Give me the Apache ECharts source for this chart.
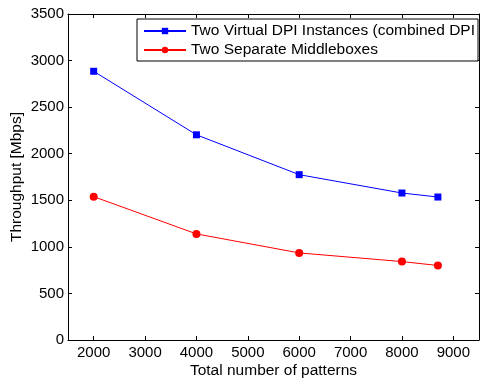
<!DOCTYPE html>
<html>
<head>
<meta charset="utf-8">
<script src="https://cdn.jsdelivr.net/npm/echarts@6/dist/echarts.min.js"></script>
<style>html,body{margin:0;padding:0;background:#fff;}#c{width:482px;height:384px;}</style>
</head>
<body>
<div id="c"></div>
<script>
const patterns = [2000, 4000, 6000, 8000, 8700];
const virtualDPI = [2885, 2203, 1775, 1578, 1535];
const separateMB = [1539, 1139, 935, 842, 800];
const seriesNames = ['Two Virtual DPI Instances (combined DPI)', 'Two Separate Middleboxes'];
const xTicks = [2000, 3000, 4000, 5000, 6000, 7000, 8000, 9000];
const yTicks = [0, 500, 1000, 1500, 2000, 2500, 3000, 3500];
const xTitle = 'Total number of patterns';
const yTitle = 'Throughput [Mbps]';

const FONT = "'Liberation Sans', Arial, Helvetica, sans-serif";
const chart = echarts.init(document.getElementById('c'), null, {renderer: 'canvas'});
const axisLine = {show: true, onZero: false, lineStyle: {color: '#000', width: 1}};
const tick = vals => ({show: true, inside: true, length: 4, customValues: vals, lineStyle: {color: '#000'}});
chart.setOption({
  animation: false,
  backgroundColor: '#fff',
  textStyle: {fontFamily: FONT, color: '#000'},
  grid: {left: 68, right: 3, top: 14, bottom: 44, containLabel: false, outerBoundsMode: 'none'},
  legend: {
    left: 137, top: 19, orient: 'vertical', itemGap: 3,
    itemWidth: 42, itemHeight: 8,
    padding: [4, 1, 3, 6],
    backgroundColor: '#fff', borderColor: '#000', borderWidth: 1,
    textStyle: {fontFamily: FONT, fontSize: 15.5, color: '#000', lineHeight: 16,
      width: 286, overflow: 'truncate', ellipsis: ''},
    data: seriesNames
  },
  xAxis: [
    {
      type: 'value', min: 1500, max: 9500, position: 'bottom',
      axisLine: axisLine, axisTick: tick(xTicks), splitLine: {show: false},
      name: xTitle, nameLocation: 'middle', nameGap: 23, nameMoveOverlap: false,
      nameTextStyle: {fontFamily: FONT, fontSize: 15.5, color: '#000'},
      axisLabel: {fontFamily: FONT, fontSize: 15, color: '#000', margin: 5,
        customValues: xTicks, formatter: v => String(v)}
    },
    {
      type: 'value', min: 1500, max: 9500, position: 'top',
      axisLine: axisLine, axisTick: tick(xTicks), splitLine: {show: false},
      axisLabel: {show: false}
    }
  ],
  yAxis: [
    {
      type: 'value', min: 0, max: 3500, interval: 500, position: 'left',
      axisLine: axisLine, axisTick: tick(yTicks), splitLine: {show: false},
      name: yTitle, nameLocation: 'middle', nameGap: 43, nameMoveOverlap: false,
      nameTextStyle: {fontFamily: FONT, fontSize: 15.5, color: '#000'},
      axisLabel: {fontFamily: FONT, fontSize: 15, color: '#000', margin: 4,
        customValues: yTicks, formatter: v => String(v)}
    },
    {
      type: 'value', min: 0, max: 3500, interval: 500, position: 'right',
      axisLine: axisLine, axisTick: tick(yTicks), splitLine: {show: false},
      axisLabel: {show: false}
    }
  ],
  series: [
    {
      name: seriesNames[0], type: 'line',
      data: patterns.map((x, i) => [x, virtualDPI[i]]),
      symbol: 'rect', symbolSize: 7,
      lineStyle: {color: '#0000ff', width: 1},
      itemStyle: {color: '#0000ff'}
    },
    {
      name: seriesNames[1], type: 'line',
      data: patterns.map((x, i) => [x, separateMB[i]]),
      symbol: 'circle', symbolSize: 8,
      lineStyle: {color: '#ff0000', width: 1},
      itemStyle: {color: '#ff0000'}
    }
  ]
});
</script>
</body>
</html>
